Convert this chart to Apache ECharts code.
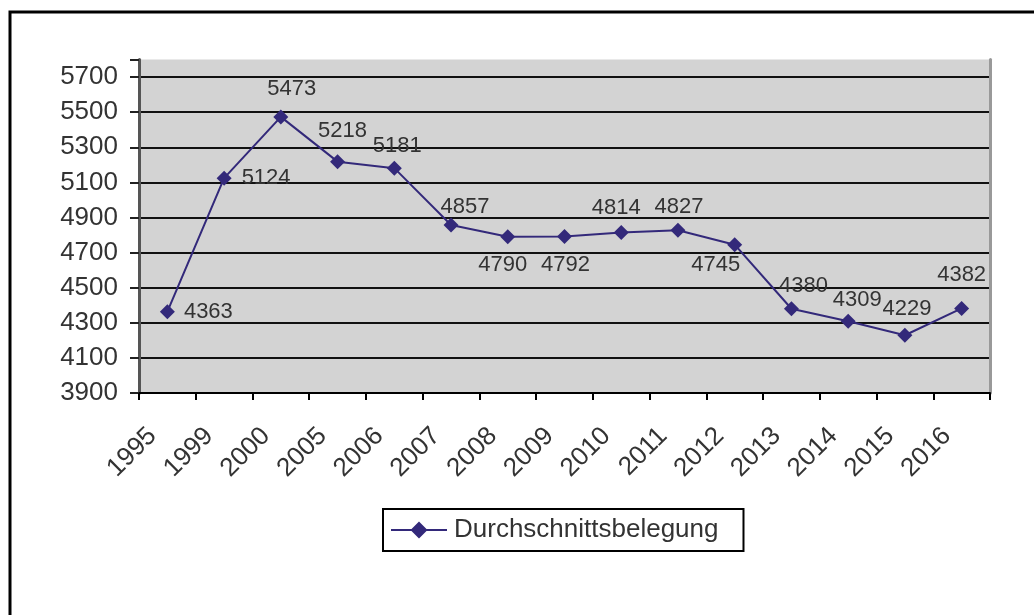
<!DOCTYPE html>
<html>
<head>
<meta charset="utf-8">
<script src="https://cdn.jsdelivr.net/npm/echarts@6/dist/echarts.min.js"></script>
<style>
  html, body { margin: 0; padding: 0; background: #fff; }
  #chart { width: 1034px; height: 615px; }
</style>
</head>
<body>
<div id="chart"></div>
<script>
// Durchschnittsbelegung je Jahr
const years = ['1995', '1999', '2000', '2005', '2006', '2007', '2008', '2009',
               '2010', '2011', '2012', '2013', '2014', '2015', '2016'];
const belegung = [4363, 5124, 5473, 5218, 5181, 4857, 4790, 4792,
                  4814, 4827, 4745, 4380, 4309, 4229, 4382];
const yTicks = [3900, 4100, 4300, 4500, 4700, 4900, 5100, 5300, 5500, 5700];
const seriesName = 'Durchschnittsbelegung';

// placement of each value label relative to its marker (dx, dy in px)
const labelShift = [
  [41, 0], [42, 0], [11, -28], [5, -31], [3, -22], [14, -18], [-5, 28], [1, 29],
  [-5, -25], [1, -23], [-19, 20], [12, -23], [9, -21], [2, -26], [0, -33]
];

const FONT = '"Liberation Sans", Arial, sans-serif';
const TEXT = '#333';
const LINE = '#33297a';

// legend key: line with a diamond in the middle
const LEGEND_ICON = 'path://M0,8 L20.5,8 L28,0.5 L35.5,8 L56,8 L56,10 L35.5,10 L28,17.5 L20.5,10 L0,10 Z';

const chart = echarts.init(document.getElementById('chart'), null, { renderer: 'canvas' });

const points = belegung.map((v, i) => ({
  value: v,
  label: { offset: labelShift[i] }
}));

chart.setOption({
  animation: false,
  backgroundColor: '#fff',
  graphic: [{
    type: 'rect',
    shape: { x: 10, y: 12, width: 1060, height: 700 },
    style: { fill: 'none', stroke: '#000', lineWidth: 3 },
    z: 100
  }],
  grid: {
    left: 139, right: 44, top: 59.5, bottom: 222,
    show: true, backgroundColor: '#d3d3d3', borderWidth: 0
  },
  legend: {
    left: 383, top: 509,
    data: [{ name: seriesName, icon: LEGEND_ICON }],
    backgroundColor: '#fff',
    borderColor: '#000', borderWidth: 2, borderRadius: 0,
    padding: [8, 25, 8, 8],
    itemWidth: 56, itemHeight: 17,
    itemStyle: { color: LINE, borderWidth: 0 },
    textStyle: { fontFamily: FONT, fontSize: 26, color: TEXT, padding: [0, 0, 0, 2] }
  },
  xAxis: {
    type: 'category',
    data: years,
    boundaryGap: true,
    axisLine: { lineStyle: { color: '#000', width: 2 } },
    axisTick: { show: true, length: 7, alignWithLabel: false, lineStyle: { color: '#000', width: 2 } },
    axisLabel: {
      interval: 0, rotate: 45, margin: 24,
      padding: [0, 21, 0, 0],
      fontFamily: FONT, fontSize: 26, color: TEXT
    },
    splitLine: { show: false }
  },
  yAxis: [{
    type: 'value',
    min: 3900, max: 5800, interval: 200,
    axisLine: { show: true, lineStyle: { color: '#555', width: 3 } },
    axisTick: { show: true, inside: false, length: 9, lineStyle: { color: '#222', width: 2 } },
    axisLabel: {
      margin: 21, customValues: yTicks,
      formatter: v => String(v),
      fontFamily: FONT, fontSize: 26, color: TEXT
    },
    splitLine: { show: true, showMaxLine: false, lineStyle: { color: '#111', width: 2 } }
  }, {
    type: 'value',
    position: 'right',
    min: 3900, max: 5800,
    axisLine: { show: true, lineStyle: { color: '#999', width: 3 } },
    axisTick: { show: false },
    axisLabel: { show: false },
    splitLine: { show: false }
  }],
  series: [{
    name: seriesName,
    type: 'line',
    data: points,
    yAxisIndex: 0,
    symbol: 'diamond',
    symbolSize: 15,
    lineStyle: { color: LINE, width: 2 },
    itemStyle: { color: LINE },
    label: {
      show: true, position: 'inside',
      fontFamily: FONT, fontSize: 22, color: TEXT
    }
  }]
});
</script>
</body>
</html>
